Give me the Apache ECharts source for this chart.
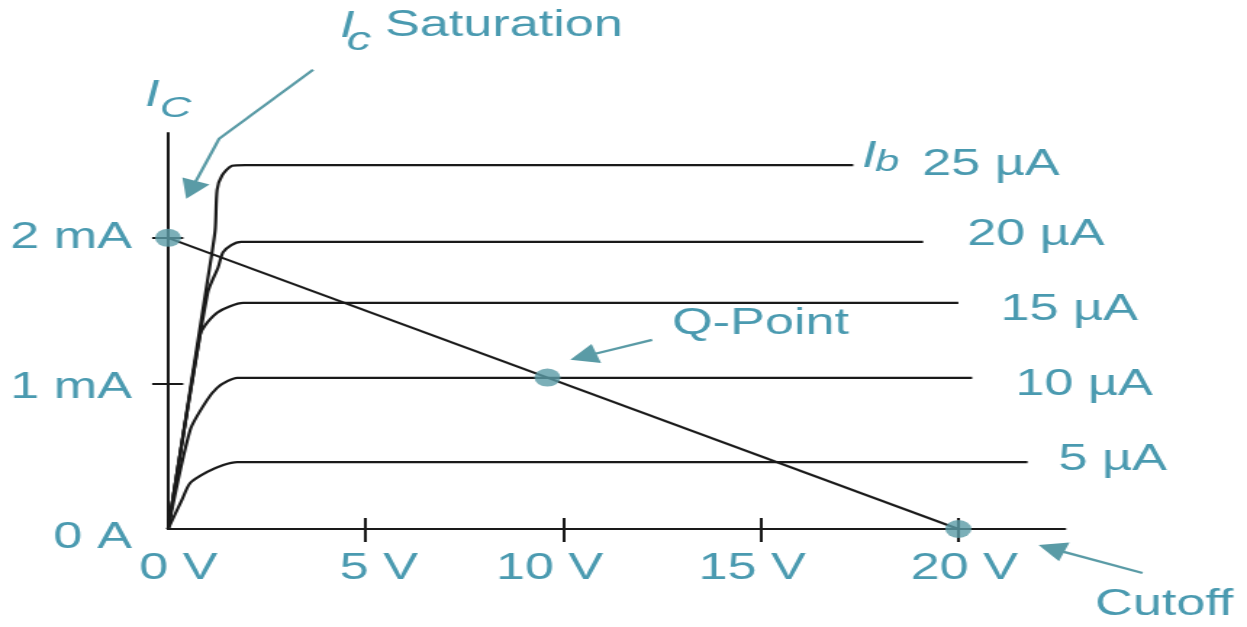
<!DOCTYPE html>
<html>
<head>
<meta charset="utf-8">
<script src="https://cdn.jsdelivr.net/npm/echarts@6/dist/echarts.min.js"></script>
<style>
  html, body { margin: 0; padding: 0; background: #fff; overflow: hidden; width: 1247px; height: 627px; }
  /* the drawing is laid out narrow and widened horizontally */
  #chart { width: 860px; height: 627px; transform: scaleX(1.45); transform-origin: 0 0; }
</style>
</head>
<body>
<div id="chart"></div>
<script>
// Transistor collector characteristics: Ic (mA) against Vce (V) for five base currents,
// with the DC load line and its saturation, Q and cutoff points.

const baseCurrents = ['25 µA', '20 µA', '15 µA', '10 µA', '5 µA'];

// [Vce (V), Ic (mA)]
const curve25 = [[0, 0], [1.0, 1.71], [1.19, 2.05], [1.24, 2.33], [1.37, 2.43], [1.62, 2.495], [1.95, 2.50], [17.34, 2.50]];
const curve20 = [[0, 0], [1.0, 1.62], [1.27, 1.80], [1.39, 1.90], [1.6, 1.95], [1.85, 1.972], [19.11, 1.972]];
const curve15 = [[0, 0], [0.81, 1.333], [0.94, 1.40], [1.24, 1.485], [1.57, 1.53], [1.9, 1.553], [20.0, 1.553]];
const curve10 = [[0, 0], [0.56, 0.68], [0.99, 0.887], [1.24, 0.969], [1.5, 1.015], [1.75, 1.038], [20.35, 1.038]];
const curve5  = [[0, 0], [0.35, 0.20], [0.56, 0.316], [0.99, 0.392], [1.4, 0.44], [1.75, 0.46], [21.75, 0.46]];

const loadLine = [[0, 2], [20, 0]];
const operatingPoints = [[0, 2], [9.6, 1.04], [20, 0]];   // saturation, Q-point, cutoff

const xTickValues = [0, 5, 10, 15, 20];
const xTickLabels = ['0 V', '5 V', '10 V', '15 V', '20 V'];
const yTickValues = [0, 1, 2];
const yTickLabels = ['0 A', '1 mA', '2 mA'];

// annotation arrows, in axis units (tail ... tip)
const saturationArrow = [[3.67, 3.155], [1.29, 2.68], [0.46, 2.268]];
const qPointArrow = [[12.25, 1.299], [10.18, 1.162]];
const cutoffArrow = [[24.66, -0.302], [22.03, -0.110]];

const FONT = '"Liberation Sans", Arial, Helvetica, sans-serif';
const TEXT = '#4a9ab0';
const ACCENT = '#5a9ba6';
const INK = '#1a1a1a';
const FS = 36;

const chart = echarts.init(document.getElementById('chart'), null, { renderer: 'canvas' });

const curves = [curve25, curve20, curve15, curve10, curve5];
const endOffsets = [[47.6, 0], [30.3, -6.5], [29, 7], [29.7, 7], [21.4, -1.5]];

const xNudge = {
  x0: { padding: [0, 0, 0, 14] },
  x1: { padding: [0, 0, 0, 18] },
  x2: { padding: [0, 19, 0, 0] },
  x3: { padding: [0, 12, 0, 0] },
  x4: { padding: [0, 0, 0, 8] }
};
const yNudge = {
  y0: { padding: [18, 0, 0, 0] },
  y1: { padding: [10, 0, 0, 0] },
  y2: {}
};
function withFont(rich) {
  Object.keys(rich).forEach(k => Object.assign(rich[k], { fontSize: FS, fontFamily: FONT, color: TEXT }));
  return rich;
}

const xMax = 22.7, yMax = 2.72;

const axisCommon = {
  type: 'value',
  splitLine: { show: false },
};

const option = {
  animation: false,
  backgroundColor: '#fff',
  grid: { left: 115.9, top: 133, width: 618.6, height: 396, containLabel: false },
  xAxis: [
    Object.assign({}, axisCommon, {
      min: 0, max: xMax, position: 'bottom',
      axisLine: { show: true, lineStyle: { color: INK, width: 2 } },
      axisTick: { show: true, customValues: [5, 10, 15, 20], length: 13, lineStyle: { color: INK, width: 2 } },
      axisLabel: {
        show: true, customValues: xTickValues, margin: 22,
        fontSize: FS, fontFamily: FONT, color: TEXT,
        formatter: v => { const i = xTickValues.indexOf(v); return '{x' + i + '|' + xTickLabels[i] + '}'; },
        rich: withFont(xNudge)
      }
    }),
    Object.assign({}, axisCommon, {
      min: 0, max: xMax, position: 'bottom',
      axisLine: { show: false },
      axisTick: { show: true, inside: true, customValues: [5, 10, 15, 20], length: 11, lineStyle: { color: INK, width: 2 } },
      axisLabel: { show: false }
    })
  ],
  yAxis: [
    Object.assign({}, axisCommon, {
      min: 0, max: yMax, position: 'left',
      axisLine: { show: true, lineStyle: { color: INK, width: 2 } },
      axisTick: { show: true, customValues: [1, 2], length: 11, lineStyle: { color: INK, width: 2 } },
      axisLabel: {
        show: true, customValues: yTickValues, margin: 25,
        fontSize: FS, fontFamily: FONT, color: TEXT,
        formatter: v => { const i = yTickValues.indexOf(v); return '{y' + i + '|' + yTickLabels[i] + '}'; },
        rich: withFont(yNudge)
      }
    }),
    Object.assign({}, axisCommon, {
      min: 0, max: yMax, position: 'left',
      axisLine: { show: false },
      axisTick: { show: true, inside: true, customValues: [1, 2], length: 10.5, lineStyle: { color: INK, width: 2 } },
      axisLabel: { show: false }
    })
  ],
  series: curves.map((d, i) => ({
    type: 'line',
    name: baseCurrents[i],
    data: d,
    symbol: 'none',
    smooth: 0.25,
    clip: false,
    lineStyle: { color: INK, width: 2.2 },
    z: 2,
    endLabel: {
      show: true,
      formatter: baseCurrents[i],
      distance: 0,
      offset: endOffsets[i],
      fontSize: FS, fontFamily: FONT, color: TEXT
    }
  })).concat([
    {
      type: 'line', name: 'load line', data: loadLine, symbol: 'none', clip: false,
      lineStyle: { color: INK, width: 2 }, z: 3
    },
    {
      type: 'scatter', name: 'points', data: operatingPoints, symbol: 'circle', symbolSize: 18, clip: false,
      itemStyle: { color: ACCENT }, z: 4
    }
  ])
};

chart.setOption(option);

function arrow(points) {
  const px = points.map(p => chart.convertToPixel({ gridIndex: 0 }, p));
  const T = px[px.length - 1], P = px[px.length - 2];
  let dx = T[0] - P[0], dy = T[1] - P[1];
  const len = Math.hypot(dx, dy); dx /= len; dy /= len;
  const L = 19, W = 10;
  const B = [T[0] - dx * L, T[1] - dy * L];
  const n = [-dy, dx];
  const shaft = px.slice(0, -1).concat([[B[0] + dx * 3, B[1] + dy * 3]]);
  return [
    { type: 'polyline', shape: { points: shaft }, style: { stroke: ACCENT, lineWidth: 2.3, fill: null }, z: 5 },
    { type: 'polygon', shape: { points: [T, [B[0] + n[0] * W, B[1] + n[1] * W], [B[0] - n[0] * W, B[1] - n[1] * W]] },
      style: { fill: ACCENT }, z: 5 }
  ];
}

function label(text, x, y, size, italic) {
  return {
    type: 'text', x: x, y: y, z: 6,
    style: {
      text: text, font: (italic ? 'italic ' : '') + size + 'px ' + FONT, fill: TEXT,
      align: 'left', verticalAlign: 'middle', textAlign: 'left', textVerticalAlign: 'middle'
    }
  };
}

chart.setOption({
  graphic: [].concat(
    arrow(saturationArrow),
    arrow(qPointArrow),
    arrow(cutoffArrow),
    [
      label('I', 100, 96, 36, true),
      label('C', 110.3, 108.5, 30, true),
      label('I', 234.5, 27, 36, true),
      label('c', 239, 41, 34, true),
      label('Saturation', 265.5, 26.5, 36, false),
      label('I', 594.5, 156.5, 36, true),
      label('b', 603.4, 162.5, 30, true),
      label('Q-Point', 463.4, 324.5, 36, false),
      label('Cutoff', 755.2, 605, 36, false)
    ]
  )
});
</script>
</body>
</html>
